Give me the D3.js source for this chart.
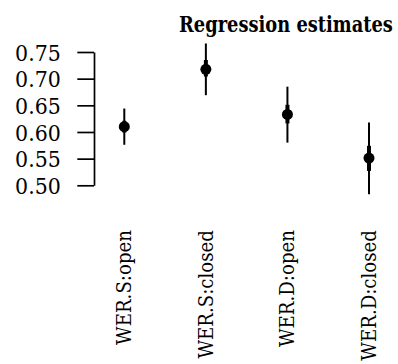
<!DOCTYPE html>
<html>
<head>
<meta charset="utf-8">
<script src="https://cdn.jsdelivr.net/npm/d3@7"></script>
<style>
  html, body { margin: 0; padding: 0; background: #fff; }
  svg { display: block; }
</style>
</head>
<body>
<svg id="chart" width="398" height="364"></svg>
<script>
// ---- data ----
const categories = ["WER.S:open", "WER.S:closed", "WER.D:open", "WER.D:closed"];
const estimates  = [0.610, 0.7175, 0.633, 0.551];
const lower95    = [0.576, 0.669, 0.580, 0.483];
const upper95    = [0.644, 0.766, 0.685, 0.618];
const lower50    = [0.599, 0.704, 0.616, 0.527];
const upper50    = [0.621, 0.735, 0.651, 0.574];
const yTicks     = [0.50, 0.55, 0.60, 0.65, 0.70, 0.75];
const title      = "Regression estimates";

const FONT = "DejaVu Serif";

// ---- layout ----
const svg = d3.select("#chart");
const axisX = 94;
const y = d3.scaleLinear().domain([0.50, 0.75]).range([185.3, 52]);
const x = d3.scalePoint().domain(categories).range([124.3, 369]);

// squeeze DejaVu Serif to Times-like widths
function squeeze(sel, factor) {
  sel.each(function () {
    const w = this.getComputedTextLength();
    d3.select(this).attr("textLength", w * factor).attr("lengthAdjust", "spacingAndGlyphs");
  });
}

// title (horizontally scaled to Times-like width)
const tg = svg.append("g");
const tt = tg.append("text")
  .attr("x", 0).attr("y", 0)
  .attr("font-family", FONT)
  .attr("font-weight", "bold")
  .attr("font-size", "23px")
  .attr("fill", "#000")
  .text(title);
const tw = tt.node().getComputedTextLength();
tg.attr("transform", `translate(179,31.5) scale(${214 / tw},1)`);

// y axis
const yAxis = d3.axisLeft(y)
  .tickValues(yTicks)
  .tickFormat(d3.format(".2f"))
  .tickSize(16.7)
  .tickSizeOuter(0)
  .tickPadding(16.5);
const gy = svg.append("g").attr("transform", `translate(${axisX},0)`).call(yAxis);
gy.attr("font-family", FONT).attr("font-size", "22.5px");
gy.select(".domain").attr("stroke", "#000").attr("stroke-width", 1.7);
gy.selectAll(".tick line").attr("stroke", "#000").attr("stroke-width", 1.7);
const tickTexts = gy.selectAll(".tick text")
  .attr("fill", "#000")
  .attr("dy", "0.36em");
const w0 = tickTexts.node().getComputedTextLength();
squeeze(tickTexts, 45.7 / w0);

// intervals
const data = categories.map((c, i) => ({
  c, est: estimates[i], lo: lower95[i], hi: upper95[i], lo50: lower50[i], hi50: upper50[i]
}));

const g = svg.append("g");
g.selectAll("line.outer").data(data).enter().append("line")
  .attr("class", "outer")
  .attr("x1", d => x(d.c)).attr("x2", d => x(d.c))
  .attr("y1", d => y(d.lo)).attr("y2", d => y(d.hi))
  .attr("stroke", "#000").attr("stroke-width", 2);
g.selectAll("line.inner").data(data).enter().append("line")
  .attr("class", "inner")
  .attr("x1", d => x(d.c)).attr("x2", d => x(d.c))
  .attr("y1", d => y(d.lo50)).attr("y2", d => y(d.hi50))
  .attr("stroke", "#000").attr("stroke-width", 4);
g.selectAll("circle").data(data).enter().append("circle")
  .attr("cx", d => x(d.c)).attr("cy", d => y(d.est))
  .attr("r", 5.5).attr("fill", "#000");

// x labels (rotated)
const xl = svg.append("g").selectAll("text").data(categories).enter().append("text")
  .attr("transform", d => `translate(${x(d) + 7},230) rotate(-90)`)
  .attr("text-anchor", "end")
  .attr("font-family", FONT)
  .attr("font-size", "20px")
  .attr("fill", "#000")
  .text(d => d);
const wl = xl.node().getComputedTextLength();
squeeze(xl, 115 / wl);
</script>
</body>
</html>
